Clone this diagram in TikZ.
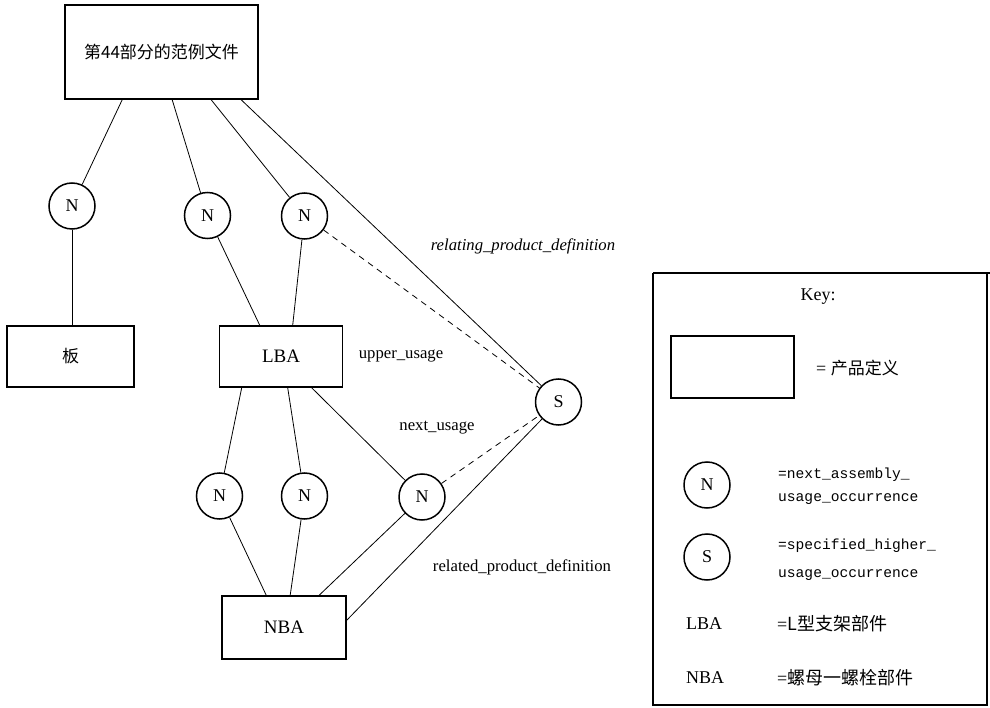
\documentclass[tikz,border=0pt]{standalone}
\usepackage{fontspec}
\setmainfont{Liberation Serif}
\setmonofont{Liberation Mono}
\newfontfamily\cjk{Noto Sans CJK SC}
\begin{document}
\begin{tikzpicture}[x=1pt,y=-1pt,
  pd/.style={draw,line width=1.6pt,inner sep=0pt,font=\fontsize{19}{22}\selectfont},
  occ/.style={draw,circle,line width=1.5pt,minimum size=46pt,inner sep=0pt,font=\fontsize{18}{20}\selectfont},
  conn/.style={line width=0.8pt},
  dconn/.style={line width=0.8pt,dash pattern=on 6pt off 5pt},
  lbl/.style={font=\fontsize{16.7}{19}\selectfont},
  mono/.style={font=\ttfamily\fontsize{14.6}{17}\selectfont,anchor=west,inner sep=0pt},
  keytxt/.style={font=\fontsize{18}{20}\selectfont,anchor=west,inner sep=0pt}]
\useasboundingbox (0,0) rectangle (990,708);

% product definitions
\node[pd,minimum width=193pt,minimum height=94pt] (top) at (161.5,52) {\cjk\fontsize{17}{20}\selectfont 第44部分的范例文件};
\node[pd,minimum width=127pt,minimum height=61pt] (board) at (70.5,356.5) {\cjk\fontsize{17}{20}\selectfont 板};
\node[pd,minimum width=123pt,minimum height=61pt] (lba) at (281,356.5) {LBA};
\node[pd,minimum width=124pt,minimum height=63pt] (nba) at (284,627.5) {NBA};

% occurrences
\node[occ] (n1) at (72,206) {N};
\node[occ] (n2) at (207.5,215.5) {N};
\node[occ] (n3) at (304.5,216) {N};
\node[occ] (s) at (558.5,402) {S};
\node[occ] (n4) at (219.5,496) {N};
\node[occ] (n5) at (304.5,496) {N};
\node[occ] (n6) at (422,497) {N};

% connectors
\draw[conn] ([xshift=58pt]top.south west) -- (n1);
\draw[conn] ([xshift=108pt]top.south west) -- (n2);
\draw[conn] ([xshift=147pt]top.south west) -- (n3);
\draw[conn] ([xshift=177pt]top.south west) -- (s);
\draw[conn] (n1) -- (n1 |- board.north);
\draw[conn] (n2) -- ([xshift=41pt]lba.north west);
\draw[conn] (n3) -- ([xshift=74pt]lba.north west);
\draw[conn] ([xshift=23pt]lba.south west) -- (n4);
\draw[conn] ([xshift=69pt]lba.south west) -- (n5);
\draw[conn] ([xshift=93pt]lba.south west) -- (n6);
\draw[conn] (n4) -- ([xshift=45pt]nba.north west);
\draw[conn] (n5) -- ([xshift=69pt]nba.north west);
\draw[conn] (n6) -- ([xshift=98pt]nba.north west);
\draw[conn] (s) -- ([yshift=-25pt]nba.north east);
\draw[dconn] (n3) -- (s);
\draw[dconn] (n6) -- (s);

% labels
\node[lbl,font=\itshape\fontsize{16.7}{19}\selectfont] (lrel) at (523,246) {relating\_product\_definition};
\node[lbl] (lup) at (401,356) {upper\_usage};
\node[lbl] (lnext) at (437,428) {next\_usage};
\node[lbl] (lrd) at (522,567) {related\_product\_definition};

% key
\draw[line width=1.3pt] (653,273) -- (990,273);
\draw[line width=1.3pt] (653,273) -- (653,705) -- (987,705) -- (987,273);
\node[keytxt,anchor=center] (key) at (818,297) {Key:};
\node[draw,line width=1.3pt,minimum width=123pt,minimum height=62pt,inner sep=0pt] (kpd) at (732.5,367) {};
\node[keytxt] (kpdt) at (816,368) {= {\cjk\fontsize{17}{20}\selectfont 产品定义}};
\node[occ] (kn) at (707,485) {N};
\node[mono] (knt1) at (778,475) {=next\_assembly\_};
\node[mono] (knt2) at (778,499) {usage\_occurrence};
\node[occ] (ks) at (707,557) {S};
\node[mono] (kst1) at (778,546) {=specified\_higher\_};
\node[mono] (kst2) at (778,575) {usage\_occurrence};
\node[keytxt] (klba) at (686,624) {LBA};
\node[keytxt] (klbat) at (777,624) {={\cjk L型支架部件}};
\node[keytxt] (knba) at (686,678) {NBA};
\node[keytxt] (knbat) at (777,678) {={\cjk 螺母一螺栓部件}};
\end{tikzpicture}
\end{document}
